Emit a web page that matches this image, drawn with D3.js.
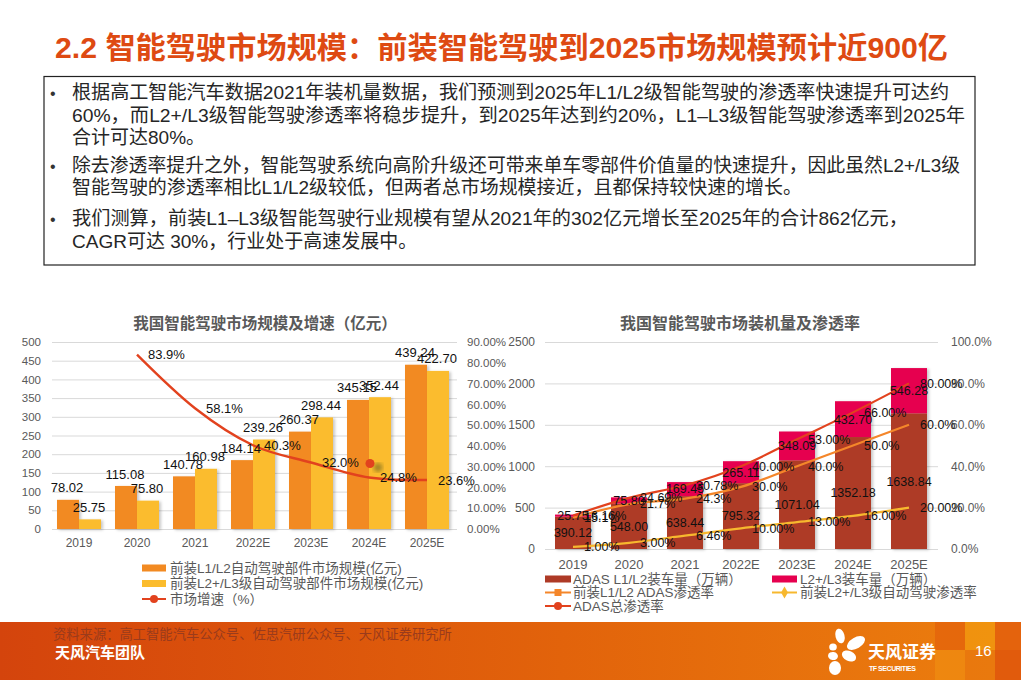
<!DOCTYPE html>
<html><head><meta charset="utf-8">
<script src="https://cdn.jsdelivr.net/npm/d3@7"></script>
<style>
html,body{margin:0;padding:0;background:#fff;}
svg{display:block;}
text{font-family:"Liberation Sans","Noto Sans CJK SC",Arial,sans-serif;}
</style></head><body>
<svg id="c" width="1021" height="680"></svg>
<script>
// ---------- DATA ----------
const years = ["2019","2020","2021","2022E","2023E","2024E","2025E"];
// left chart: market size (亿元) and growth (%)
const marketL1L2 = [78.02,115.08,140.78,184.14,260.37,345.15,439.24];
const marketL2L3 = [25.75,75.80,160.98,239.26,298.44,352.44,422.70];
const growthRate = [null,83.9,58.1,40.3,32.0,24.8,23.6];
const leftTicks1 = [0,50,100,150,200,250,300,350,400,450,500];
const rightTicks1 = [0,10,20,30,40,50,60,70,80,90];
// right chart: installs (万辆) and penetration (%)
const installL1L2 = [390.12,548.00,638.44,795.32,1071.04,1352.18,1638.84];
const installL2L3 = [25.75,75.80,169.45,265.11,348.09,432.70,546.28];
const penL1L2 = [15.1,21.7,24.3,30.0,40.0,50.0,60.0];
const penL2L3 = [1.00,3.00,6.46,10.00,13.00,16.00,20.00];
const penTotal = [16.16,24.69,30.78,40.00,53.00,66.00,80.00];
const leftTicks2 = [0,500,1000,1500,2000,2500];
const rightTicks2 = [0,20,40,60,80,100];

const pageTitle = "2.2 智能驾驶市场规模：前装智能驾驶到2025市场规模预计近900亿";
const bodyLines = [
  {t:"根据高工智能汽车数据2021年装机量数据，我们预测到2025年L1/L2级智能驾驶的渗透率快速提升可达约", b:true, w:877},
  {t:"60%，而L2+/L3级智能驾驶渗透率将稳步提升，到2025年达到约20%，L1–L3级智能驾驶渗透率到2025年", b:false, w:893},
  {t:"合计可达80%。", b:false, w:0},
  {t:"除去渗透率提升之外，智能驾驶系统向高阶升级还可带来单车零部件价值量的快速提升，因此虽然L2+/L3级", b:true, w:888},
  {t:"智能驾驶的渗透率相比L1/L2级较低，但两者总市场规模接近，且都保持较快速的增长。", b:false, w:730},
  {t:"我们测算，前装L1–L3级智能驾驶行业规模有望从2021年的302亿元增长至2025年的合计862亿元，", b:true, w:836},
  {t:"CAGR可达 30%，行业处于高速发展中。", b:false, w:0}
];
const bodyY = [99,122,144,172,194,225,248];

const chart1Title = "我国智能驾驶市场规模及增速（亿元）";
const chart2Title = "我国智能驾驶市场装机量及渗透率";
const legend1 = ["前装L1/L2自动驾驶部件市场规模(亿元)","前装L2+/L3级自动驾驶部件市场规模(亿元)","市场增速（%）"];
const legend2 = ["ADAS L1/L2装车量（万辆）","L2+/L3装车量（万辆）","前装L1/L2 ADAS渗透率","前装L2+/L3级自动驾驶渗透率","ADAS总渗透率"];
const sourceText = "资料来源：高工智能汽车公众号、佐思汽研公众号、天风证券研究所";
const teamText = "天风汽车团队";

// ---------- COLORS ----------
const C = {
  title:"#DE4A12", gray:"#595959", grid:"#D9D9D9",
  orange:"#F28A22", yellow:"#FBBC2D", red:"#E2421E",
  brown:"#AE3A26", pink:"#E6004F", lineOrange:"#F4862A", lineYellow:"#F7B82E"
};

const svg = d3.select("#c");
const defs = svg.append("defs");
const sh = defs.append("filter").attr("id","sh").attr("x","-20%").attr("y","-20%").attr("width","150%").attr("height","150%");
sh.append("feDropShadow").attr("dx",2).attr("dy",1).attr("stdDeviation",1.4).attr("flood-color","#000").attr("flood-opacity",0.22);
const bl = defs.append("filter").attr("id","bl");
bl.append("feGaussianBlur").attr("stdDeviation",2);
const g1 = defs.append("linearGradient").attr("id","foot").attr("x1","0").attr("x2","1").attr("y1","0").attr("y2","0");
g1.append("stop").attr("offset","0").attr("stop-color","#D4440C");
g1.append("stop").attr("offset","0.55").attr("stop-color","#E2630B");
g1.append("stop").attr("offset","1").attr("stop-color","#EC7F0E");

svg.append("rect").attr("width",1021).attr("height",680).attr("fill","#fff");

// ---------- PAGE TITLE ----------
svg.append("text").attr("x",55).attr("y",58).attr("fill",C.title)
  .attr("font-size",30).attr("font-weight","bold")
  .attr("textLength",893).attr("lengthAdjust","spacingAndGlyphs")
  .text(pageTitle);

// ---------- TEXT BOX ----------
svg.append("rect").attr("x",44).attr("y",76.5).attr("width",931).attr("height",188.5)
  .attr("fill","none").attr("stroke","#222").attr("stroke-width",1.2);
bodyLines.forEach((d,i)=>{
  if(d.b) svg.append("text").attr("x",50).attr("y",bodyY[i]).attr("font-size",16).attr("fill","#333").text("•");
  const t = svg.append("text").attr("x",72).attr("y",bodyY[i]).attr("font-size",19).attr("fill","#262626").text(d.t);
  if(d.w) t.attr("textLength",d.w).attr("lengthAdjust","spacingAndGlyphs");
});

// ---------- LEFT CHART ----------
(function(){
  const g = svg.append("g");
  const x = d3.scaleBand().domain(years).range([50,456]).paddingInner(14/58).paddingOuter(7/58);
  const xs = d3.scaleBand().domain(["a","b"]).range([0,x.bandwidth()]);
  const y = d3.scaleLinear().domain([0,500]).range([529,342]);
  const yr = d3.scaleLinear().domain([0,90]).range([529,342]);
  const cx = d => x(d)+x.bandwidth()/2;

  g.append("text").attr("x",265).attr("y",329).attr("text-anchor","middle")
    .attr("font-size",15.5).attr("font-weight","bold").attr("fill",C.gray).text(chart1Title);

  g.selectAll(".gl").data(leftTicks1).join("line")
    .attr("x1",52).attr("x2",457).attr("y1",d=>y(d)+0.5).attr("y2",d=>y(d)+0.5)
    .attr("stroke",C.grid).attr("stroke-width",1);

  const ax = g.append("g").attr("transform","translate(44,0)")
    .call(d3.axisLeft(y).tickValues(leftTicks1).tickSize(0).tickPadding(3).tickFormat(d=>String(d)));
  ax.select(".domain").remove();
  ax.selectAll("text").attr("font-size",11.5).attr("fill",C.gray).attr("font-family",null);

  const ar = g.append("g").attr("transform","translate(463,0)")
    .call(d3.axisRight(yr).tickValues(rightTicks1).tickSize(0).tickPadding(4).tickFormat(d=>d.toFixed(2)+"%"));
  ar.select(".domain").remove();
  ar.selectAll("text").attr("font-size",11.5).attr("fill",C.gray).attr("font-family",null);

  const axb = g.append("g").attr("transform","translate(0,529)")
    .call(d3.axisBottom(x).tickSize(0).tickPadding(9.5));
  axb.select(".domain").remove();
  axb.selectAll("text").attr("font-size",12).attr("fill",C.gray).attr("font-family",null);

  const series = [{k:"a",v:marketL1L2,c:C.orange},{k:"b",v:marketL2L3,c:C.yellow}];
  series.forEach(s=>{
    g.append("g").attr("filter","url(#sh)").selectAll("rect").data(years).join("rect")
      .attr("x",d=>x(d)+xs(s.k)).attr("width",xs.bandwidth())
      .attr("y",(d,i)=>y(s.v[i])).attr("height",(d,i)=>y(0)-y(s.v[i]))
      .attr("fill",s.c);
  });
  // stray marker seen in the source chart
  g.append("circle").attr("cx",cx("2024E")+9).attr("cy",yr(31.5)+4).attr("r",4.5).attr("fill","#5a5a1a").attr("opacity",0.55).attr("filter","url(#bl)");
  g.append("circle").attr("cx",cx("2024E")+1).attr("cy",yr(31.5)).attr("r",4.5).attr("fill",C.red);

  const pts = years.map((d,i)=>({d,v:growthRate[i]})).filter(p=>p.v!=null);
  g.append("path").datum(pts)
    .attr("d",d3.line().x(p=>cx(p.d)).y(p=>yr(p.v)).curve(d3.curveCatmullRom.alpha(0)))
    .attr("fill","none").attr("stroke",C.red).attr("stroke-width",2.4);

  series.forEach(s=>{
    g.selectAll(null).data(years).join("text")
      .attr("x",d=>x(d)+xs(s.k)+xs.bandwidth()/2-1).attr("y",(d,i)=>y(s.v[i])-12)
      .attr("dy","0.35em").attr("text-anchor","middle").attr("font-size",13).attr("fill","#111")
      .text((d,i)=>s.v[i].toFixed(2));
  });
  g.selectAll(null).data(pts).join("text")
    .attr("x",p=>cx(p.d)+11).attr("y",p=>yr(p.v)).attr("dy","0.35em")
    .attr("font-size",13).attr("fill","#111").text(p=>p.v.toFixed(1)+"%");

  // legend
  const lg = g.append("g");
  const ly = [568,583.5,599];
  lg.append("rect").attr("x",142).attr("y",ly[0]-3.5).attr("width",24).attr("height",7).attr("fill",C.orange);
  lg.append("rect").attr("x",142).attr("y",ly[1]-3.5).attr("width",24).attr("height",7).attr("fill",C.yellow);
  lg.append("line").attr("x1",142).attr("x2",166).attr("y1",ly[2]).attr("y2",ly[2]).attr("stroke",C.red).attr("stroke-width",2);
  lg.append("circle").attr("cx",154).attr("cy",ly[2]).attr("r",4).attr("fill",C.red);
  legend1.forEach((t,i)=>lg.append("text").attr("x",170).attr("y",ly[i]).attr("dy","0.36em")
    .attr("font-size",13.5).attr("fill",C.gray).text(t));
})();

// ---------- RIGHT CHART ----------
(function(){
  const g = svg.append("g");
  const x = d3.scaleBand().domain(years).range([545,937]).paddingInner(20/56).paddingOuter(10/56);
  const y = d3.scaleLinear().domain([0,2500]).range([549,342]);
  const yr = d3.scaleLinear().domain([0,100]).range([549,342]);
  const cx = d => x(d)+x.bandwidth()/2;

  g.append("text").attr("x",740).attr("y",329).attr("text-anchor","middle")
    .attr("font-size",16).attr("font-weight","bold").attr("fill",C.gray).text(chart2Title);

  g.selectAll(".gl").data(leftTicks2).join("line")
    .attr("x1",545).attr("x2",938).attr("y1",d=>y(d)+0.5).attr("y2",d=>y(d)+0.5)
    .attr("stroke",C.grid).attr("stroke-width",1);

  const ax = g.append("g").attr("transform","translate(539,0)")
    .call(d3.axisLeft(y).tickValues(leftTicks2).tickSize(0).tickPadding(4).tickFormat(d=>String(d)));
  ax.select(".domain").remove();
  ax.selectAll("text").attr("font-size",12).attr("fill",C.gray).attr("font-family",null);

  const ar = g.append("g").attr("transform","translate(947,0)")
    .call(d3.axisRight(yr).tickValues(rightTicks2).tickSize(0).tickPadding(4).tickFormat(d=>d.toFixed(1)+"%"));
  ar.select(".domain").remove();
  ar.selectAll("text").attr("font-size",12).attr("fill",C.gray).attr("font-family",null);

  const axb = g.append("g").attr("transform","translate(0,549)")
    .call(d3.axisBottom(x).tickSize(0).tickPadding(11));
  axb.select(".domain").remove();
  axb.selectAll("text").attr("font-size",13).attr("fill",C.gray).attr("font-family",null);

  const stackData = years.map((d,i)=>({year:d,a:installL1L2[i],b:installL2L3[i]}));
  const stacked = d3.stack().keys(["a","b"])(stackData);
  const colors = {a:C.brown,b:C.pink};
  const bars = g.append("g").attr("filter","url(#sh)");
  stacked.forEach(layer=>{
    bars.selectAll(null).data(layer).join("rect")
      .attr("x",d=>x(d.data.year)).attr("width",x.bandwidth())
      .attr("y",d=>y(d[1])).attr("height",d=>y(d[0])-y(d[1]))
      .attr("fill",colors[layer.key]);
  });

  const line = d3.line().x(p=>cx(p.d)).y(p=>yr(p.v)).curve(d3.curveCatmullRom.alpha(0));
  const lines = [
    {v:penL2L3,c:C.lineYellow,f:2},
    {v:penL1L2,c:C.lineOrange,f:1},
    {v:penTotal,c:C.red,f:2}
  ];
  lines.forEach(s=>{
    g.append("path").datum(years.map((d,i)=>({d,v:s.v[i]})))
      .attr("d",line).attr("fill","none").attr("stroke",s.c).attr("stroke-width",2.2);
  });

  stacked.forEach(layer=>{
    g.selectAll(null).data(layer).join("text")
      .attr("x",d=>cx(d.data.year)).attr("y",d=>(y(d[0])+y(d[1]))/2).attr("dy","0.35em")
      .attr("text-anchor","middle").attr("font-size",12.5).attr("fill","#111")
      .text(d=>d.data[layer.key].toFixed(2));
  });
  lines.forEach(s=>{
    g.selectAll(null).data(years).join("text")
      .attr("x",d=>cx(d)+11).attr("y",(d,i)=>yr(s.v[i])).attr("dy","0.35em")
      .attr("font-size",12.5).attr("fill","#111")
      .text((d,i)=>s.v[i].toFixed(s.f)+"%");
  });

  // legend
  const lg = g.append("g");
  const ry = [579,592.5,606];
  lg.append("rect").attr("x",545).attr("y",ry[0]-3.5).attr("width",26).attr("height",7).attr("fill",C.brown);
  lg.append("rect").attr("x",772).attr("y",ry[0]-3.5).attr("width",25).attr("height",7).attr("fill",C.pink);
  lg.append("line").attr("x1",545).attr("x2",571).attr("y1",ry[1]).attr("y2",ry[1]).attr("stroke",C.lineOrange).attr("stroke-width",2);
  lg.append("rect").attr("x",554.5).attr("y",ry[1]-3.5).attr("width",7).attr("height",7).attr("fill",C.lineOrange);
  lg.append("line").attr("x1",772).attr("x2",797).attr("y1",ry[1]).attr("y2",ry[1]).attr("stroke",C.lineYellow).attr("stroke-width",2);
  lg.append("path").attr("d",d3.symbol(d3.symbolDiamond,40)()).attr("transform",`translate(784.5,${ry[1]})`).attr("fill",C.lineYellow);
  lg.append("line").attr("x1",545).attr("x2",571).attr("y1",ry[2]).attr("y2",ry[2]).attr("stroke",C.red).attr("stroke-width",2);
  lg.append("circle").attr("cx",558).attr("cy",ry[2]).attr("r",4).attr("fill",C.red);
  const lpos = [[573,ry[0]],[800,ry[0]],[573,ry[1]],[800,ry[1]],[573,ry[2]]];
  legend2.forEach((t,i)=>lg.append("text").attr("x",lpos[i][0]).attr("y",lpos[i][1]).attr("dy","0.36em")
    .attr("font-size",13.5).attr("fill",C.gray).text(t));
})();

// ---------- FOOTER ----------
(function(){
  const f = svg.append("g");
  f.append("rect").attr("x",0).attr("y",622).attr("width",1021).attr("height",58).attr("fill","url(#foot)");
  const blocks = [
    [935,622,30,28,"#E4650C"],[965,622,30,28,"#F1960F"],[995,622,26,28,"#E35E0D"],
    [935,650,30,30,"#EE8A10"],[965,650,30,30,"#E9780E"],[995,650,26,30,"#DF550C"]
  ];
  blocks.forEach(b=>f.append("rect").attr("x",b[0]).attr("y",b[1]).attr("width",b[2]).attr("height",b[3]).attr("fill",b[4]).attr("opacity",0.85));
  f.append("text").attr("x",53).attr("y",634).attr("dy","0.36em").attr("font-size",13.3).attr("fill","#9A3B1C").text(sourceText);
  f.append("text").attr("x",55).attr("y",653).attr("dy","0.36em").attr("font-size",15).attr("font-weight","bold").attr("fill","#fff").text(teamText);
  // logo petals
  const petals = [[840,636,4.5,7.5,-15],[856,643,10,5.5,-30],[833,647,3.8,3.5,0],[833,656,5,4,10],[849,656,7.5,5,25],[835,668,6,7,0]];
  petals.forEach(p=>f.append("ellipse").attr("cx",p[0]).attr("cy",p[1]).attr("rx",p[2]).attr("ry",p[3])
    .attr("transform",`rotate(${p[4]},${p[0]},${p[1]})`).attr("fill","#fff"));
  f.append("text").attr("x",868).attr("y",652).attr("dy","0.36em").attr("font-size",17).attr("font-weight","bold").attr("fill","#fff").text("天风证券");
  f.append("text").attr("x",869).attr("y",668).attr("dy","0.36em").attr("font-size",7).attr("font-weight","bold").attr("fill","#fff")
    .attr("textLength",47).text("TF SECURITIES");
  f.append("text").attr("x",975).attr("y",651).attr("dy","0.36em").attr("font-size",15).attr("fill","#fff").text("16");
})();
</script>
</body></html>
